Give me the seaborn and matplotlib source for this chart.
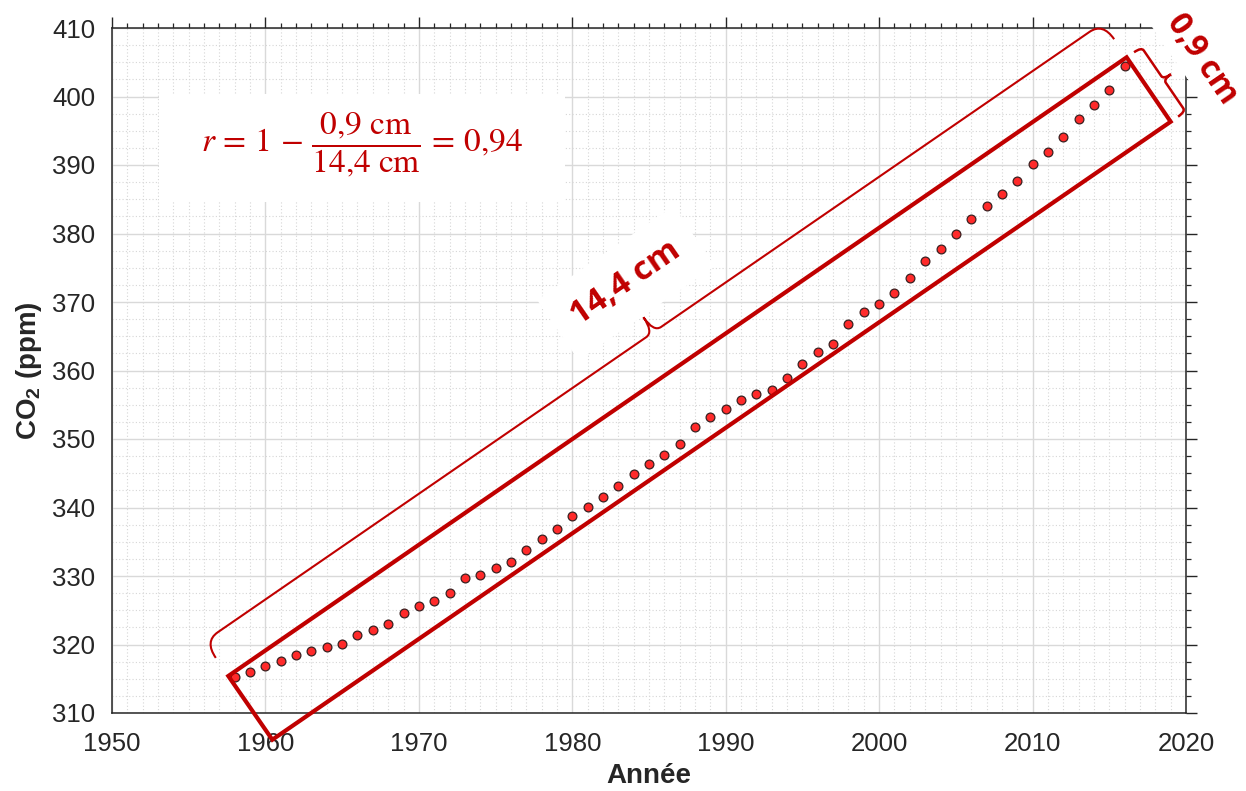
import matplotlib
matplotlib.use("Agg")
import matplotlib.pyplot as plt
from matplotlib.path import Path
from matplotlib.patches import PathPatch, Rectangle, Polygon
from matplotlib.ticker import MultipleLocator
import numpy as np
import pandas as pd
import seaborn as sns

# ---------------- data ----------------
years = list(range(1958, 2017))
co2_ppm = [315.30, 315.98, 316.91, 317.64, 318.45, 318.99, 319.62, 320.04, 321.37, 322.18,
           323.05, 324.62, 325.68, 326.32, 327.46, 329.68, 330.19, 331.13, 332.03, 333.84,
           335.41, 336.84, 338.76, 340.12, 341.48, 343.15, 344.87, 346.35, 347.61, 349.31,
           351.69, 353.20, 354.45, 355.70, 356.54, 357.21, 358.96, 360.97, 362.74, 363.88,
           366.84, 368.54, 369.71, 371.32, 373.45, 375.98, 377.70, 379.98, 382.09, 384.02,
           385.83, 387.64, 390.10, 391.85, 394.06, 396.74, 398.81, 401.01, 404.41]
x_ticks = [1950, 1960, 1970, 1980, 1990, 2000, 2010, 2020]
y_ticks = [310, 320, 330, 340, 350, 360, 370, 380, 390, 400, 410]
x_label = "Année"
y_label = r"CO$_\mathbf{2}$ (ppm)"
formula = r"$r\,=\,1\,-\,\dfrac{0{,}9\ \mathrm{cm}}{14{,}4\ \mathrm{cm}}\,=\,0{,}94$"
length_label = "14,4 cm"
width_label = "0,9 cm"
# enclosing rectangle corners (year, ppm): left, top, right, bottom
box_x = [1957.58, 2016.13, 2019.00, 1960.45]
box_y = [315.40, 405.72, 396.32, 306.10]

df = pd.DataFrame({"Année": years, "CO2": co2_ppm})

RED = "#C00000"
DARK = "#262626"

sns.set_theme(style="white")
plt.rcParams["font.family"] = ["Liberation Sans", "DejaVu Sans"]
plt.rcParams["mathtext.fontset"] = "custom"
plt.rcParams["mathtext.rm"] = "Liberation Sans"
plt.rcParams["mathtext.bf"] = "Liberation Sans:bold"
plt.rcParams["mathtext.it"] = "Liberation Sans:italic"

fig = plt.figure(figsize=(12.46, 7.91), dpi=100)
ax = fig.add_axes([112 / 1246, 1 - 713 / 791, (1186 - 112) / 1246, (713 - 28) / 791])

ax.set_xlim(x_ticks[0], x_ticks[-1])
ax.set_ylim(y_ticks[0], y_ticks[-1])

sns.scatterplot(data=df, x="Année", y="CO2", ax=ax, s=40, color="#ff2a2a",
                edgecolor="#3a2020", linewidth=0.9, zorder=5, legend=False)

ax.set_xticks(x_ticks)
ax.set_yticks(y_ticks)
ax.xaxis.set_minor_locator(MultipleLocator(1))
ax.yaxis.set_minor_locator(MultipleLocator(2.5))
ax.set_axisbelow(True)
ax.grid(which="major", color="#d9d9d9", linewidth=1.0, linestyle="-")
ax.grid(which="minor", color="#d6d6d6", linewidth=0.8, linestyle=(0, (1, 2)))

for sp in ax.spines.values():
    sp.set_visible(True)
    sp.set_color(DARK)
    sp.set_linewidth(1.1)

ax.tick_params(which="both", direction="out", top=True, right=True, colors=DARK,
               labelcolor=DARK)
ax.tick_params(which="major", length=8, width=1.0, labelsize=18.5)
ax.tick_params(which="minor", length=3.6, width=0.9)
ax.tick_params(axis="x", which="major", pad=6)
ax.tick_params(axis="y", which="major", pad=4)

ax.set_xlabel(x_label, fontsize=20, fontweight="bold", color=DARK, labelpad=5)
ax.set_ylabel(y_label, fontsize=20, fontweight="bold", color=DARK, labelpad=6)

# white panel behind the formula
ax.add_patch(Rectangle((1953.06, 384.6), 26.47, 15.76, facecolor="white",
                       edgecolor="none", zorder=1))
ax.text(1966.3, 392.9, formula, color=RED, fontsize=24, ha="center", va="center",
        math_fontfamily="stix", zorder=6)

# enclosing rectangle
ax.add_patch(Polygon(np.column_stack([box_x, box_y]), closed=True, fill=False,
                     edgecolor=RED, linewidth=3.0, joinstyle="miter",
                     clip_on=False, zorder=7))

# ---- braces computed in display space ----
def brace(p0, p1, d_end, d_line, d_cusp, r_end, r_cusp, tc=None):
    p0 = np.asarray(p0, float)
    p1 = np.asarray(p1, float)
    L = np.hypot(*(p1 - p0))
    u = (p1 - p0) / L
    n = np.array([-u[1], u[0]])
    P = lambda t, d: p0 + u * t + n * d
    tm = L / 2 if tc is None else tc
    verts = [P(0, d_end), P(0, d_line), P(r_end, d_line),
             P(tm - r_cusp, d_line), P(tm, d_line), P(tm, d_cusp),
             P(tm, d_line), P(tm + r_cusp, d_line),
             P(L - r_end, d_line), P(L, d_line), P(L, d_end)]
    codes = [Path.MOVETO, Path.CURVE3, Path.CURVE3, Path.LINETO, Path.CURVE3,
             Path.CURVE3, Path.CURVE3, Path.CURVE3, Path.LINETO, Path.CURVE3,
             Path.CURVE3]
    return np.array(verts), codes, P, L, u

inv = ax.transData.inverted()
disp = ax.transData.transform(np.column_stack([box_x, box_y]))
left_c, top_c, right_c = disp[0], disp[1], disp[2]

v, c, P_long, L_long, u_long = brace(left_c, top_c, 22, 42, 60, 16, 9)
ax.add_patch(PathPatch(Path(inv.transform(v), c), fill=False, edgecolor=RED,
                       linewidth=1.5, clip_on=False, zorder=11))
v, c, P_short, L_short, u_short = brace(top_c, right_c, 9, 18, 27, 4, 4)
ax.add_patch(PathPatch(Path(inv.transform(v), c), fill=False, edgecolor=RED,
                       linewidth=1.8, clip_on=False, zorder=11))

ang_long = np.degrees(np.arctan2(u_long[1], u_long[0]))
ang_short = np.degrees(np.arctan2(u_short[1], u_short[0]))
xy = inv.transform(P_long(L_long / 2 + 5, 98))
ax.text(xy[0], xy[1], length_label, rotation=ang_long, rotation_mode="anchor",
        ha="center", va="center", color=RED, fontsize=24, fontweight="bold",
        family=["Open Sans", "DejaVu Sans"], clip_on=False, zorder=10,
        bbox=dict(boxstyle="square,pad=0.6", facecolor="white", edgecolor="none"))
xy = inv.transform(P_short(44, 61))
ax.text(xy[0], xy[1], width_label, rotation=ang_short, rotation_mode="anchor",
        ha="center", va="center", color=RED, fontsize=23, fontweight="bold",
        family=["Open Sans", "DejaVu Sans"], clip_on=False, zorder=10,
        bbox=dict(boxstyle="square,pad=0.2", facecolor="white", edgecolor="none"))

fig.savefig("out.png", dpi=100, facecolor="white")
